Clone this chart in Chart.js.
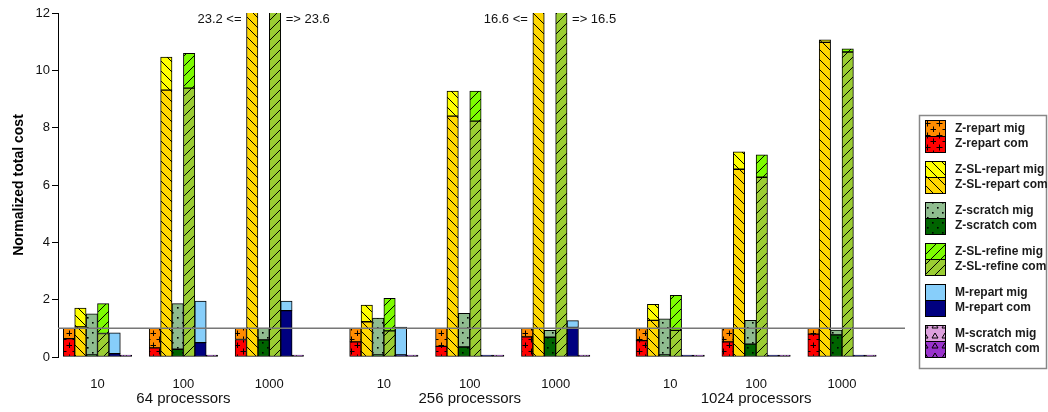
<!DOCTYPE html>
<html lang="en">
<head>
<meta charset="UTF-8">
<title>Normalized total cost</title>
<script src="https://cdn.jsdelivr.net/npm/chart.js"></script>
<style>
  html, body { margin: 0; padding: 0; background: #fff; }
</style>
</head>
<body>
<canvas id="costChart" width="1048" height="412"></canvas>
<script>
// categories
const procGroups = ['64 processors', '256 processors', '1024 processors'];
const subLabels = ['10', '100', '1000'];
const methods = ['Z-repart', 'Z-SL-repart', 'Z-scratch', 'Z-SL-refine', 'M-repart', 'M-scratch'];
const yTicks = [0, 2, 4, 6, 8, 10, 12];

// values, order: 64/10, 64/100, 64/1000, 256/10, 256/100, 256/1000, 1024/10, 1024/100, 1024/1000
const zRepartCom   = [0.64, 0.32, 0.61, 0.53, 0.37, 0.70, 0.57, 0.53, 0.80];
const zRepartMig   = [0.36, 0.68, 0.39, 0.47, 0.63, 0.30, 0.43, 0.47, 0.20];
const zSlRepartCom = [1.05, 9.31, 21.9, 1.23, 8.40, 15.5, 1.28, 6.55, 10.98];
const zSlRepartMig = [0.66, 1.15, 1.3, 0.58, 0.88, 1.1, 0.56, 0.61, 0.08];
const zScratchCom  = [0.02, 0.27, 0.60, 0.02, 0.35, 0.69, 0.07, 0.45, 0.77];
const zScratchMig  = [1.44, 1.59, 0.41, 1.29, 1.17, 0.24, 1.26, 0.83, 0.17];
const zSlRefineCom = [0.82, 9.38, 22.3, 0.91, 8.23, 15.4, 0.93, 6.27, 10.64];
const zSlRefineMig = [1.04, 1.21, 1.3, 1.14, 1.05, 1.1, 1.22, 0.78, 0.11];
const mRepartCom   = [0.12, 0.50, 1.62, 0.06, 0, 1.03, 0, 0, 0];
const mRepartMig   = [0.72, 1.45, 0.33, 0.97, 0, 0.24, 0, 0, 0];
const mScratchCom  = [0, 0, 0, 0, 0, 0, 0, 0, 0];
const mScratchMig  = [0, 0, 0, 0, 0, 0, 0, 0, 0];

const comSeries = [zRepartCom, zSlRepartCom, zScratchCom, zSlRefineCom, mRepartCom, mScratchCom];
const migSeries = [zRepartMig, zSlRepartMig, zScratchMig, zSlRefineMig, mRepartMig, mScratchMig];

// look of each method: [mig colour, com colour, hatch]
const looks = [
  ['#ff8c00', '#ff0000', 'plus'],
  ['#ffff00', '#ffd700', 'back'],
  ['#8fbc8f', '#006400', 'dots'],
  ['#7cfc00', '#9acd32', 'fwd'],
  ['#87cefa', '#000080', 'none'],
  ['#dda0dd', '#9932cc', 'tri']
];

Chart.defaults.font.family = '"Liberation Sans", Arial, sans-serif';
Chart.defaults.color = '#111';

function hatch(color, kind) {
  const c = document.createElement('canvas');
  const s = kind === 'plus' ? 12 : 10;
  c.width = s; c.height = s;
  const g = c.getContext('2d');
  g.fillStyle = color;
  g.fillRect(0, 0, s, s);
  g.strokeStyle = '#000';
  g.fillStyle = '#000';
  g.lineWidth = 1;
  if (kind === 'plus') {
    [[3, 3], [9, 9]].forEach(([x, y]) => {
      g.beginPath();
      g.moveTo(x - 2.5, y + 0.5); g.lineTo(x + 3.5, y + 0.5);
      g.moveTo(x + 0.5, y - 2.5); g.lineTo(x + 0.5, y + 3.5);
      g.stroke();
    });
  } else if (kind === 'back' || kind === 'fwd') {
    g.beginPath();
    for (let o = -s; o <= s; o += s) {
      if (kind === 'back') { g.moveTo(o - 1, -1); g.lineTo(o + s + 1, s + 1); }
      else { g.moveTo(o - 1, s + 1); g.lineTo(o + s + 1, -1); }
    }
    g.stroke();
  } else if (kind === 'dots') {
    g.fillRect(2, 2, 1.6, 1.6);
    g.fillRect(7, 7, 1.6, 1.6);
  } else if (kind === 'tri') {
    g.beginPath();
    g.moveTo(2, 8); g.lineTo(5, 3); g.lineTo(8, 8); g.closePath();
    g.stroke();
  }
  return kind === 'none' ? color : g.createPattern(c, 'repeat');
}

// x slots: 3 subgroups per processor group, wider gap between groups
const slots = [];
procGroups.forEach((p, g) => subLabels.forEach((s, i) => slots.push(g * 10 + i * 3)));
const groupCenters = procGroups.map((p, g) => g * 10 + 3);

const fills = looks.map(l => ({ mig: hatch(l[0], l[2]), com: hatch(l[1], l[2]) }));

const datasets = [];
methods.forEach((m, k) => {
  datasets.push({
    label: m + ' com',
    stack: m,
    data: comSeries[k].map((v, i) => ({ x: slots[i], y: v })),
    backgroundColor: fills[k].com,
    borderColor: '#000',
    borderWidth: 1,
    borderSkipped: false,
    minBarLength: 2
  });
  datasets.push({
    label: m + ' mig',
    stack: m,
    data: migSeries[k].map((v, i) => ({ x: slots[i], y: v })),
    backgroundColor: fills[k].mig,
    borderColor: '#000',
    borderWidth: 1,
    borderSkipped: false
  });
});

const extras = {
  id: 'extras',
  afterDatasetsDraw(chart) {
    const { ctx, chartArea, scales } = chart;
    const yMax = scales.y.max;
    // reference line at 1
    const y1 = scales.y.getPixelForValue(1);
    ctx.save();
    ctx.strokeStyle = '#777';
    ctx.lineWidth = 1.5;
    ctx.beginPath();
    ctx.moveTo(chartArea.left, y1);
    ctx.lineTo(chartArea.right, y1);
    ctx.stroke();

    // values of bars running off the top
    ctx.font = '13px "Liberation Sans", Arial, sans-serif';
    ctx.fillStyle = '#111';
    ctx.textBaseline = 'middle';
    slots.forEach((s, i) => {
      let n = 0;
      methods.forEach((m, k) => {
        const total = comSeries[k][i] + migSeries[k][i];
        if (total <= yMax) return;
        const bar = chart.getDatasetMeta(k * 2 + 1).data[i];
        const txt = total.toFixed(1);
        if (n === 0) {
          ctx.textAlign = 'right';
          ctx.fillText(txt + ' <=', bar.x - bar.width / 2 - 5, chartArea.top + 6);
        } else {
          ctx.textAlign = 'left';
          ctx.fillText('=> ' + txt, bar.x + bar.width / 2 + 5, chartArea.top + 6);
        }
        n++;
      });
    });
    ctx.restore();
  },
  afterDraw(chart) {
    const ctx = chart.ctx;
    const bx = chart.chartArea.right + 14, by = 115;
    ctx.save();
    ctx.strokeStyle = '#888';
    ctx.lineWidth = 1.5;
    ctx.strokeRect(bx + 0.5, by + 0.5, 127, 253);
    ctx.font = 'bold 12px "Liberation Sans", Arial, sans-serif';
    ctx.textBaseline = 'middle';
    ctx.textAlign = 'left';
    methods.forEach((m, k) => {
      const sy = by + 5 + k * 41;
      const sx = bx + 6;
      ctx.fillStyle = fills[k].mig;
      ctx.fillRect(sx, sy, 21, 16.5);
      ctx.fillStyle = fills[k].com;
      ctx.fillRect(sx, sy + 16.5, 21, 16.5);
      ctx.strokeStyle = '#000';
      ctx.lineWidth = 1;
      ctx.strokeRect(sx + 0.5, sy + 0.5, 20, 32);
      ctx.beginPath();
      ctx.moveTo(sx, sy + 16.5); ctx.lineTo(sx + 21, sy + 16.5);
      ctx.stroke();
      ctx.fillStyle = '#1a1a1a';
      ctx.fillText(m + ' mig', bx + 36, sy + 9);
      ctx.fillText(m + ' com', bx + 36, sy + 24);
    });
    ctx.restore();
  }
};

new Chart(document.getElementById('costChart'), {
  type: 'bar',
  data: { datasets },
  options: {
    responsive: false,
    animation: false,
    layout: { padding: { top: 13, right: 143, bottom: 0, left: 0 } },
    datasets: { bar: { barThickness: 11.4 } },
    plugins: { legend: { display: false }, tooltip: { enabled: false } },
    scales: {
      x: {
        type: 'linear',
        stacked: true,
        offset: false,
        min: -1.38,
        max: 28.2,
        weight: 0,
        afterBuildTicks: (scale) => { scale.ticks = slots.map(v => ({ value: v })); },
        afterFit: (scale) => { scale.height = 32; },
        ticks: {
          autoSkip: false,
          padding: 20,
          font: { size: 13 },
          callback: (v, i) => subLabels[i % 3]
        },
        grid: { display: false, drawTicks: false, offset: false },
        border: { display: false }
      },
      x2: {
        type: 'linear',
        position: 'bottom',
        offset: false,
        min: -1.38,
        max: 28.2,
        weight: 1,
        afterBuildTicks: (scale) => { scale.ticks = groupCenters.map(v => ({ value: v })); },
        afterFit: (scale) => { scale.height = 23; },
        ticks: {
          autoSkip: false,
          padding: 1,
          font: { size: 15 },
          callback: (v, i) => procGroups[i]
        },
        grid: { display: false, drawTicks: false, offset: false },
        border: { display: false }
      },
      y: {
        stacked: true,
        min: 0,
        max: 12,
        afterBuildTicks: (scale) => { scale.ticks = yTicks.map(v => ({ value: v })); },
        afterFit: (scale) => { scale.width = 58; },
        ticks: { padding: 2, font: { size: 13 } },
        grid: { drawOnChartArea: false, drawTicks: true, tickLength: 6, color: '#000' },
        border: { display: true, color: '#000', width: 1 },
        title: {
          display: true,
          text: 'Normalized total cost',
          font: { size: 14, weight: 'bold' },
          color: '#000',
          padding: { top: 11, bottom: 0 }
        }
      }
    }
  },
  plugins: [extras]
});
</script>
</body>
</html>
